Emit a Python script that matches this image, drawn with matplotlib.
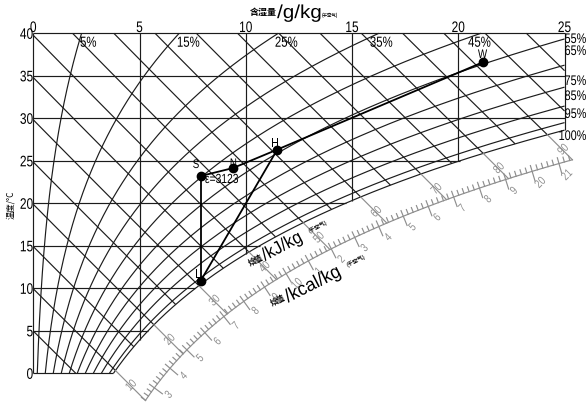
import numpy as np
import matplotlib.pyplot as plt
from matplotlib.patheffects import AbstractPathEffect
from matplotlib.transforms import Affine2D

# chart grid values
moisture_ticks = [0, 5, 10, 15, 20, 25]           # g/kg
temperature_ticks = [0, 5, 10, 15, 20, 25, 30, 35, 40]  # deg C
rh_curves = [5, 15, 25, 35, 45, 55, 65, 75, 85, 95, 100]  # %
rh_top_labels = ["5%", "15%", "25%", "35%", "45%"]
rh_top_x = [2.20, 6.76, 11.37, 15.84, 20.46]
rh_side_labels = ["55%", "65%", "75%", "85%", "95%", "100%"]
rh_side_y = [38.86, 37.45, 33.92, 32.15, 30.04, 27.45]
enthalpy_lines = [5, 10, 15, 20, 25, 30, 35, 40, 45, 50, 55, 60, 65, 70,
                  75, 80, 85, 90, 95, 100]        # kJ/kg
kj_scale = [10, 20, 30, 40, 50, 60, 70, 80, 90]
kcal_scale = [3, 4, 5, 6, 7, 8, 9, 10, 11, 12, 13, 14, 15, 16, 17, 18, 19, 20, 21]

# air states: moisture g/kg, temperature C
point_names = ["W", "H", "N", "S", "L"]
point_d = [21.15, 11.48, 9.40, 7.88, 7.88]
point_t = [36.59, 26.32, 24.15, 23.21, 10.89]
label_d = [21.14, 11.37, 9.42, 7.66, 7.73]
label_t = [37.09, 26.62, 24.27, 24.15, 11.21]
eps_text = "ε=3123"

P = 101.325
KX, KY = 21.25, 8.5      # pixels per g/kg and per deg C
X0, Y0 = 33.3, 373.3     # pixel position of (0 g/kg, 0 C)
GREY = "#8e8e8e"


def p_sat(T):
    return 0.61078 * np.exp(17.27 * T / (T + 237.3))


def w_of(T, phi=1.0):
    pv = phi * p_sat(T)
    return 622.0 * pv / (P - pv)


def t_of_w(w, phi=1.0):
    pv = w * P / (622.0 + w) / phi
    a = np.log(pv / 0.61078)
    return 237.3 * a / (17.27 - a)


def h_of(T, w):
    return 1.006 * T + w / 1000.0 * (2501 + 1.86 * T)


def t_on_h(h, w):
    return (h - 2.501 * w) / (1.006 + 0.00186 * w)


def sat_for_h(h):
    lo, hi = -20.0, 50.0
    for _ in range(60):
        mid = 0.5 * (lo + hi)
        if h_of(mid, w_of(mid)) > h:
            hi = mid
        else:
            lo = mid
    return w_of(lo), lo


def to_data(xp, yp):
    return (np.asarray(xp) - X0) / KX, (Y0 - np.asarray(yp)) / KY


def to_px(w, T):
    return X0 + np.asarray(w) * KX, Y0 - np.asarray(T) * KY


def ext_len(h):
    # distance (px along each axis) from saturation to the kcal arc
    return 25 + 5 * ((90 - h) / 80.0) ** 1.5


class Squeeze(AbstractPathEffect):
    """Draw the glyphs narrower along the baseline (CAD style lettering)."""

    def __init__(self, sx=0.75, anchor="center"):
        super().__init__()
        self.sx = sx
        self.anchor = anchor

    def draw_path(self, renderer, gc, tpath, affine, rgbFace=None):
        xs = tpath.vertices[:, 0]
        if len(xs) == 0:
            return
        if self.anchor == "left":
            x0 = 0.0
        elif self.anchor == "right":
            x0 = xs.max()
        else:
            x0 = 0.5 * (xs.min() + xs.max())
        tr = Affine2D().translate(-x0, 0).scale(self.sx, 1).translate(x0, 0)
        renderer.draw_path(gc, tpath, tr + affine, rgbFace)


def latin(x, y, s, size, sx=0.78, ha="center", va="center", **kw):
    ax.text(x, y, s, ha=ha, va=va, fontsize=size, family="Liberation Sans",
            path_effects=[Squeeze(sx, ha)], **kw)


CJK = ["Noto Sans CJK SC", "DejaVu Sans"]

fig = plt.figure(figsize=(5.88, 4.04), dpi=100)
ax = fig.add_axes([0, 0, 1, 1])
ax.set_xlim(-X0 / KX, (588 - X0) / KX)
ax.set_ylim((Y0 - 404) / KY, Y0 / KY)
ax.axis("off")

blk = dict(color="#1c1c1c", lw=0.85, solid_capstyle="butt")
gry = dict(color=GREY, lw=0.85)

# frame
ax.plot([0, 0], [0, 40], **blk)
ax.plot([25, 25], [t_of_w(25), 40], **blk)

# dry-bulb temperature lines
for T in temperature_ticks:
    ax.plot([0, min(25, w_of(T))], [T, T], **blk)

# moisture lines
for w in moisture_ticks[1:-1]:
    ax.plot([w, w], [t_of_w(w), 40], **blk)

# relative humidity curves
for phi in rh_curves:
    f = phi / 100.0
    t_end = min(40.0, t_of_w(25.0, f))
    T = np.linspace(0, t_end, 300)
    ax.plot(w_of(T, f), T, **blk)

# enthalpy lines
for h in enthalpy_lines:
    w0 = max(0.0, (h - 1.006 * 40) / (2.501 + 0.00186 * 40))
    ws, Ts = sat_for_h(h)
    w1 = min(25.0, ws, h / 2.501)
    w = np.linspace(w0, w1, 50)
    ax.plot(w, t_on_h(h, w), **blk)

# kJ/kg scale: extensions beyond saturation
for h in kj_scale:
    ws, Ts = sat_for_h(h)
    xs, ys = to_px(ws, Ts)
    L = ext_len(h)
    xe, ye = to_data([xs, xs + L], [ys, ys + L])
    ax.plot(xe, ye, **gry)
    lx, ly = to_data(xs + 16, ys + 15)
    latin(lx, ly, str(h), 8.5, rotation=45, color=GREY)


def arc_px(h):
    ws, Ts = sat_for_h(h)
    xs, ys = to_px(ws, Ts)
    L = ext_len(h)
    return xs + L, ys + L


# kcal/kg scale arc
hh = np.linspace(10, 90, 200)
ap = np.array([arc_px(h) for h in hh])
ax.plot(*to_data(ap[:, 0], ap[:, 1]), **gry)

kcal_ticks = np.round(np.arange(2.4, 21.45, 0.2), 1)
for k in kcal_ticks:
    h = 4.1868 * k
    x, y = arc_px(h)
    xa, ya = arc_px(h - 0.2)
    xb, yb = arc_px(h + 0.2)
    tx, ty = xb - xa, yb - ya
    n = np.hypot(tx, ty)
    nx, ny = ty / n, -tx / n          # normal toward the chart
    major = abs(k - round(k)) < 1e-6
    if major:
        seg = to_data([x - 10 * nx, x + 6 * nx], [y - 10 * ny, y + 6 * ny])
    else:
        seg = to_data([x, x + 5 * nx], [y, y + 5 * ny])
    ax.plot(*seg, **gry)
    if major and int(round(k)) in kcal_scale:
        kk = int(round(k))
        s = str(kk) if (kk <= 10 or kk >= 20) else str(kk % 10)
        lx, ly = to_data(x - 12 * nx + 5, y - 12 * ny)
        latin(lx, ly, s, 8.5, rotation=45, color=GREY)

# tick labels
for T in temperature_ticks:
    latin(0.0, T - 0.65, str(T), 11, ha="right", va="baseline")
for w in moisture_ticks:
    latin(w, 40.15, str(w), 11, va="baseline")

for s, x in zip(rh_top_labels, rh_top_x):
    latin(x, 38.42, s, 10.5, ha="left", va="baseline")
for s, y in zip(rh_side_labels, rh_side_y):
    latin(26.03, y, s, 10, ha="right", va="baseline")

# axis titles
ax.text(10.83, 42.45, "含湿量", ha="center", va="center", fontsize=6.5,
        fontweight="bold", family=CJK)
latin(12.52, 41.8, "/g/kg", 13.5, sx=1.1, va="baseline")
ax.text(13.95, 42.09, "(干空气)", ha="center", va="center", fontsize=3.2,
        fontweight="bold", family=CJK)
ax.text(-1.05, 19.8, "温度/°C", rotation=90, ha="center", va="center",
        fontsize=6, family=CJK)

ax.text(10.48, 13.3, "焓值", rotation=28, ha="center", va="center",
        fontsize=5.5, fontweight="bold", family=CJK)
latin(11.72, 14.89, "/kJ/kg", 13, sx=0.92, rotation=28)
ax.text(13.4, 17.15, "(干空气)", rotation=28, ha="center", va="center",
        fontsize=4, fontweight="bold", family=CJK)
ax.text(11.52, 8.6, "焓值", rotation=27, ha="center", va="center",
        fontsize=5.5, fontweight="bold", family=CJK)
latin(13.17, 10.4, "/kcal/kg", 13.5, sx=0.95, rotation=27)
ax.text(15.2, 13.1, "(干空气)", rotation=27, ha="center", va="center",
        fontsize=4, fontweight="bold", family=CJK)

# air handling process
pd = dict(zip(point_names, zip(point_d, point_t)))
for a, b in [("N", "H"), ("H", "W"), ("H", "L"), ("L", "S"), ("S", "N")]:
    ax.plot([pd[a][0], pd[b][0]], [pd[a][1], pd[b][1]], color="black", lw=1.3)
ax.plot(point_d, point_t, "o", color="black", ms=6)

for name, x, y in zip(point_names, label_d, label_t):
    latin(x, y, name, 9, va="baseline")
latin(8.08, 22.39, eps_text, 9.5, ha="left", va="baseline")

fig.savefig("out.png", dpi=100)
